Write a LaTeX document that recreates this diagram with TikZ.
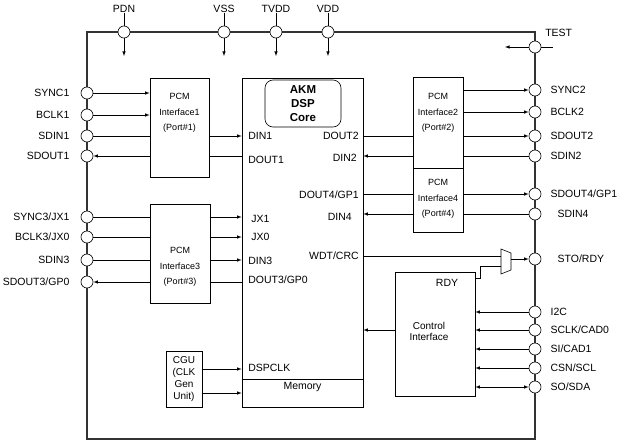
\documentclass[tikz,border=0pt]{standalone}
\usepackage{fontspec}
\setmainfont{Liberation Sans}
\usetikzlibrary{positioning}

\begin{document}
\begin{tikzpicture}[x=1pt, y=-1pt, >=latex, line width=0.6pt,
  pin/.style={circle, draw, fill=white, inner sep=0pt, minimum size=12pt},
  lbl/.style={inner sep=0pt, font=\fontsize{10.5}{12}\selectfont},
  box/.style={draw, inner sep=0pt},
  pcmtxt/.style={align=center, inner sep=0pt, font=\fontsize{9}{15.5}\selectfont}]
\useasboundingbox (0,0) rectangle (626,442);
\draw[line width=1.5pt, black!80] (87,32) rectangle (535,439);

% pins
\node[pin] (pPDN) at (124,32) {};
\node[pin] (pVSS) at (224,32) {};
\node[pin] (pTVDD) at (276,32) {};
\node[pin] (pVDD) at (328,32) {};
\node[pin] (pTEST) at (535,47) {};

\node[pin] (pSYNC1) at (87,93) {};
\node[pin] (pBCLK1) at (87,115) {};
\node[pin] (pSDIN1) at (87,136) {};
\node[pin] (pSDOUT1) at (87,156) {};
\node[pin] (pSYNC3) at (87,217) {};
\node[pin] (pBCLK3) at (87,237) {};
\node[pin] (pSDIN3) at (87,260) {};
\node[pin] (pSDOUT3) at (87,282) {};

\node[pin] (pSYNC2) at (535,90) {};
\node[pin] (pBCLK2) at (535,112) {};
\node[pin] (pSDOUT2) at (535,136) {};
\node[pin] (pSDIN2) at (535,156) {};
\node[pin] (pSDOUT4) at (535,194) {};
\node[pin] (pSDIN4) at (535,214) {};
\node[pin] (pSTO) at (535,259) {};
\node[pin] (pI2C) at (535,312) {};
\node[pin] (pSCLK) at (535,330) {};
\node[pin] (pSI) at (535,349) {};
\node[pin] (pCSN) at (535,368) {};
\node[pin] (pSO) at (535,387) {};

\node[lbl, above=13pt of pPDN] (tPDN) {PDN};
\node[lbl, above=13pt of pVSS] (tVSS) {VSS};
\node[lbl, above=13pt of pTVDD] (tTVDD) {TVDD};
\node[lbl, above=13pt of pVDD] (tVDD) {VDD};
\node[lbl, anchor=west] (tTEST) at (545,33) {TEST};

\node[lbl, left=11pt of pSYNC1] (tSYNC1) {SYNC1};
\node[lbl, left=11pt of pBCLK1] (tBCLK1) {BCLK1};
\node[lbl, left=11pt of pSDIN1] (tSDIN1) {SDIN1};
\node[lbl, left=11pt of pSDOUT1] (tSDOUT1) {SDOUT1};
\node[lbl, left=11pt of pSYNC3] (tSYNC3) {SYNC3/JX1};
\node[lbl, left=11pt of pBCLK3] (tBCLK3) {BCLK3/JX0};
\node[lbl, left=11pt of pSDIN3] (tSDIN3) {SDIN3};
\node[lbl, left=11pt of pSDOUT3] (tSDOUT3) {SDOUT3/GP0};

\node[lbl, right=9pt of pSYNC2] (tSYNC2) {SYNC2};
\node[lbl, right=9pt of pBCLK2] (tBCLK2) {BCLK2};
\node[lbl, right=9pt of pSDOUT2] (tSDOUT2) {SDOUT2};
\node[lbl, right=9pt of pSDIN2] (tSDIN2) {SDIN2};
\node[lbl, right=9pt of pSDOUT4] (tSDOUT4) {SDOUT4/GP1};
\node[lbl, right=16pt of pSDIN4] (tSDIN4) {SDIN4};
\node[lbl, right=16pt of pSTO] (tSTO) {STO/RDY};
\node[lbl, right=9pt of pI2C] (tI2C) {I2C};
\node[lbl, right=9pt of pSCLK] (tSCLK) {SCLK/CAD0};
\node[lbl, right=9pt of pSI] (tSI) {SI/CAD1};
\node[lbl, right=9pt of pCSN] (tCSN) {CSN/SCL};
\node[lbl, right=9pt of pSO] (tSO) {SO/SDA};

% blocks
\node[box, minimum width=59pt, minimum height=99pt] (pcmA) at (179.5,127.5) {};
\node[pcmtxt] (pcmAtxt) at (179.5,113) {PCM\\Interface1\\(Port\#1)};
\node[box, minimum width=60pt, minimum height=99pt] (pcmC) at (180,253.5) {};
\node[pcmtxt] (pcmCtxt) at (180,267) {PCM\\Interface3\\(Port\#3)};
\node[box, minimum width=50pt, minimum height=91pt] (pcmB) at (438,122.5) {};
\node[pcmtxt] (pcmBtxt) at (438,113) {PCM\\Interface2\\(Port\#2)};
\node[box, minimum width=50pt, minimum height=64pt] (pcmD) at (438,200) {};
\node[pcmtxt] (pcmDtxt) at (438,199) {PCM\\Interface4\\(Port\#4)};

\node[box, minimum width=121pt, minimum height=329pt] (dsp) at (302.5,242.5) {};
\node[box, minimum width=121pt, minimum height=28pt] (mem) at (302.5,393) {};
\node[lbl] (memtxt) at (302.5,387) {Memory};
\node[box, rounded corners=8pt, minimum width=76pt, minimum height=47pt, align=center,
  font=\bfseries\fontsize{11.5}{14}\selectfont] (core) at (303,103.5) {AKM\\DSP\\Core};

\node[box, minimum width=80pt, minimum height=124pt] (ctrl) at (435,334) {};
\node[lbl] (rdytxt) at (447,283) {RDY};
\node[align=center, inner sep=0pt, font=\fontsize{10}{11}\selectfont] (ctrltxt) at (429,331) {Control\\Interface};
\node[box, minimum width=36pt, minimum height=56pt, align=center,
  font=\fontsize{10}{12.3}\selectfont] (cgu) at (184,379) {CGU\\(CLK\\Gen\\Unit)};

\node[lbl, anchor=west] (lDIN1) at (248,136) {DIN1};
\node[lbl, anchor=west] (lDOUT1) at (248,160) {DOUT1};
\node[lbl, anchor=west] (lJX1) at (251,219) {JX1};
\node[lbl, anchor=west] (lJX0) at (251,237) {JX0};
\node[lbl, anchor=west] (lDIN3) at (248,261) {DIN3};
\node[lbl, anchor=west] (lDOUT3) at (248,280) {DOUT3/GP0};
\node[lbl, anchor=west] (lDSPCLK) at (248,368) {DSPCLK};
\node[lbl, anchor=east] (lDOUT2) at (359,136) {DOUT2};
\node[lbl, anchor=east] (lDIN2) at (357,158) {DIN2};
\node[lbl, anchor=east] (lDOUT4) at (359,195) {DOUT4/GP1};
\node[lbl, anchor=east] (lDIN4) at (352,217) {DIN4};
\node[lbl, anchor=east] (lWDT) at (359,256) {WDT/CRC};

% top and TEST
\coordinate (aPDN) at (124,56);
\coordinate (aVSS) at (224,56);
\coordinate (aTVDD) at (276,56);
\coordinate (aVDD) at (328,56);
\coordinate (aTEST) at (505,47);
\coordinate (sTEST) at (553,47);
\draw (tPDN) -- (pPDN);
\draw (tVSS) -- (pVSS);
\draw (tTVDD) -- (pTVDD);
\draw (tVDD) -- (pVDD);
\draw[->] (pPDN) -- (aPDN);
\draw[->] (pVSS) -- (aVSS);
\draw[->] (pTVDD) -- (aTVDD);
\draw[->] (pVDD) -- (aVDD);
\draw (pTEST) -- (sTEST);
\draw[->] (pTEST) -- (aTEST);

% port 1 and 3
\draw[->] (pSYNC1) -- (pSYNC1 -| pcmA.west);
\draw[->] (pBCLK1) -- (pBCLK1 -| pcmA.west);
\draw (pSDIN1) -- (pSDIN1 -| pcmA.west);
\draw[->] (pSDIN1 -| pcmA.east) -- (pSDIN1 -| dsp.west);
\draw (pSDOUT1 -| dsp.west) -- (pSDOUT1 -| pcmA.east);
\draw[->] (pSDOUT1 -| pcmA.west) -- (pSDOUT1);

\draw (pSYNC3) -- (pSYNC3 -| pcmC.west);
\draw[->] (pSYNC3 -| pcmC.east) -- (pSYNC3 -| dsp.west);
\draw (pBCLK3) -- (pBCLK3 -| pcmC.west);
\draw[->] (pBCLK3 -| pcmC.east) -- (pBCLK3 -| dsp.west);
\draw (pSDIN3) -- (pSDIN3 -| pcmC.west);
\draw[->] (pSDIN3 -| pcmC.east) -- (pSDIN3 -| dsp.west);
\draw (pSDOUT3 -| dsp.west) -- (pSDOUT3 -| pcmC.east);
\draw[->] (pSDOUT3 -| pcmC.west) -- (pSDOUT3);

% port 2 and 4
\draw[->] (pSYNC2 -| pcmB.east) -- (pSYNC2);
\draw[->] (pBCLK2 -| pcmB.east) -- (pBCLK2);
\draw (pSDOUT2 -| dsp.east) -- (pSDOUT2 -| pcmB.west);
\draw[->] (pSDOUT2 -| pcmB.east) -- (pSDOUT2);
\draw (pSDIN2) -- (pSDIN2 -| pcmB.east);
\draw[->] (pSDIN2 -| pcmB.west) -- (pSDIN2 -| dsp.east);
\draw (pSDOUT4 -| dsp.east) -- (pSDOUT4 -| pcmD.west);
\draw[->] (pSDOUT4 -| pcmD.east) -- (pSDOUT4);
\draw (pSDIN4) -- (pSDIN4 -| pcmD.east);
\draw[->] (pSDIN4 -| pcmD.west) -- (pSDIN4 -| dsp.east);

% mux
\coordinate (muxA) at (501,256);
\coordinate (muxB) at (501,266);
\coordinate (muxO) at (511,259);
\coordinate (rdyA) at ([yshift=-7pt]ctrl.north east);
\draw (501,249) -- (511,253) -- (511,270) -- (501,274) -- cycle;
\draw (muxA -| dsp.east) -- (muxA);
\draw (rdyA) -- ++(5,0) |- (muxB);
\draw[->] (muxO) -- (pSTO);

% control interface
\coordinate (ctlA) at ([yshift=4pt]ctrl.west);
\draw[->] (ctlA) -- (ctlA -| dsp.east);
\draw[->] (pI2C) -- (pI2C -| ctrl.east);
\draw[->] (pSCLK) -- (pSCLK -| ctrl.east);
\draw[->] (pSI) -- (pSI -| ctrl.east);
\draw[->] (pCSN) -- (pCSN -| ctrl.east);
\draw[<->] (pSO -| ctrl.east) -- (pSO);

% clock
\coordinate (ckA) at ([yshift=10pt]cgu.east);
\coordinate (ckB) at ([yshift=-14pt]cgu.east);
\draw[->] (ckA) -- (ckA -| dsp.west);
\draw[->] (ckB) -- (ckB -| dsp.west);
\end{tikzpicture}
\end{document}
